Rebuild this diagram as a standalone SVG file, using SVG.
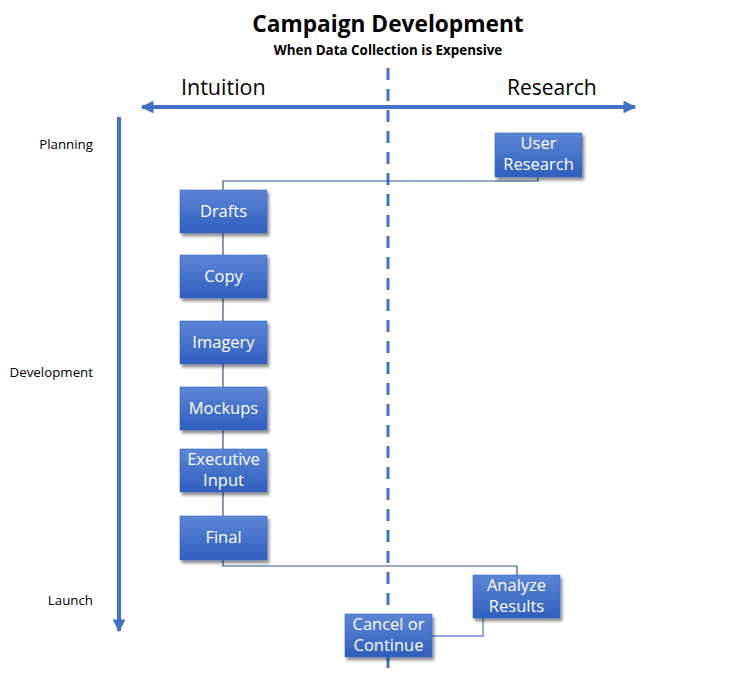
<svg xmlns="http://www.w3.org/2000/svg" width="740" height="677" viewBox="0 0 740 677">
<defs>
<linearGradient id="boxg" x1="0" y1="0" x2="0" y2="1">
<stop offset="0" stop-color="#5C86D6"/>
<stop offset="1" stop-color="#2F5EBE"/>
</linearGradient>
<filter id="sh" x="-10%" y="-10%" width="130%" height="140%">
<feGaussianBlur in="SourceAlpha" stdDeviation="1.5"/>
<feOffset dx="1.5" dy="3" result="b"/>
<feComponentTransfer><feFuncA type="linear" slope="0.45"/></feComponentTransfer>
<feMerge><feMergeNode/><feMergeNode in="SourceGraphic"/></feMerge>
</filter>
<marker id="ah" viewBox="0 0 10 10" refX="9" refY="5" markerWidth="4" markerHeight="3.2" orient="auto-start-reverse" markerUnits="strokeWidth">
<path d="M0,0 L10,5 L0,10 Z" fill="#4472C4"/>
</marker>
</defs>
<style>
.box{fill:url(#boxg);stroke:#3B67BB;stroke-width:0.6;filter:url(#sh)}
.bt{font-family:"Open Sans","Noto Sans",sans-serif;font-size:16.5px;fill:#fff;text-anchor:middle}
.lab{font-family:"Open Sans","Noto Sans",sans-serif;font-size:13.3px;fill:#000;text-anchor:end}
.ax{font-family:"Open Sans","Noto Sans",sans-serif;font-size:21px;fill:#000}
.conn{fill:none;stroke:#2F5597;stroke-width:1.2}
.conn2{fill:none;stroke:#8FAADC;stroke-width:2}
</style>
<rect width="740" height="677" fill="#fff"/>
<text x="388" y="32" font-family="'Open Sans','Noto Sans',sans-serif" font-size="22.7" font-weight="bold" text-anchor="middle" fill="#000">Campaign Development</text>
<text x="388" y="55" font-family="'Open Sans','Noto Sans',sans-serif" font-size="13.4" font-weight="bold" text-anchor="middle" fill="#000">When Data Collection is Expensive</text>
<g id="axes">
<line x1="142" y1="107" x2="635" y2="107" stroke="#4472C4" stroke-width="4" marker-start="url(#ah)" marker-end="url(#ah)"/>
<line x1="119" y1="117" x2="119" y2="631" stroke="#4472C4" stroke-width="4" marker-end="url(#ah)"/>
<line x1="388" y1="68" x2="388" y2="668" stroke="#4472C4" stroke-width="3" stroke-dasharray="12,9"/>
<text class="ax" x="181" y="95" style="font-size:21.5px">Intuition</text>
<text class="ax" x="507" y="95">Research</text>
<text class="lab" x="93" y="149">Planning</text>
<text class="lab" x="93" y="377">Development</text>
<text class="lab" x="93" y="605">Launch</text>
</g>
<g id="connectors">
<polyline class="conn" points="538,177 538,181 223,181 223,190"/>
<line class="conn" x1="223" y1="233" x2="223" y2="516"/>
<polyline class="conn" points="223,560 223,566 517,566 517,575"/>
<polyline class="conn2" points="483,618 483,636 432,636"/>
</g>
<g id="user-research"><rect class="box" x="495" y="133" width="87" height="44"/><text class="bt" x="538.5" y="149">User</text><text class="bt" x="538.5" y="170">Research</text></g>
<g id="drafts"><rect class="box" x="180" y="190" width="87" height="43"/><text class="bt" x="223.5" y="217">Drafts</text></g>
<g id="copy"><rect class="box" x="180" y="255" width="87" height="43"/><text class="bt" x="223.5" y="282">Copy</text></g>
<g id="imagery"><rect class="box" x="180" y="321" width="87" height="43"/><text class="bt" x="223.5" y="348">Imagery</text></g>
<g id="mockups"><rect class="box" x="180" y="387" width="87" height="43"/><text class="bt" x="223.5" y="414">Mockups</text></g>
<g id="executive-input"><rect class="box" x="180" y="449" width="87" height="43"/><text class="bt" x="223.5" y="465">Executive</text><text class="bt" x="223.5" y="486">Input</text></g>
<g id="final"><rect class="box" x="180" y="516" width="87" height="44"/><text class="bt" x="223.5" y="543">Final</text></g>
<g id="analyze-results"><rect class="box" x="473" y="575" width="87" height="43"/><text class="bt" x="516.5" y="591">Analyze</text><text class="bt" x="516.5" y="612">Results</text></g>
<g id="cancel-or-continue"><rect class="box" x="345" y="614" width="87" height="43"/><text class="bt" x="388.5" y="630">Cancel or</text><text class="bt" x="388.5" y="651">Continue</text></g>
</svg>
